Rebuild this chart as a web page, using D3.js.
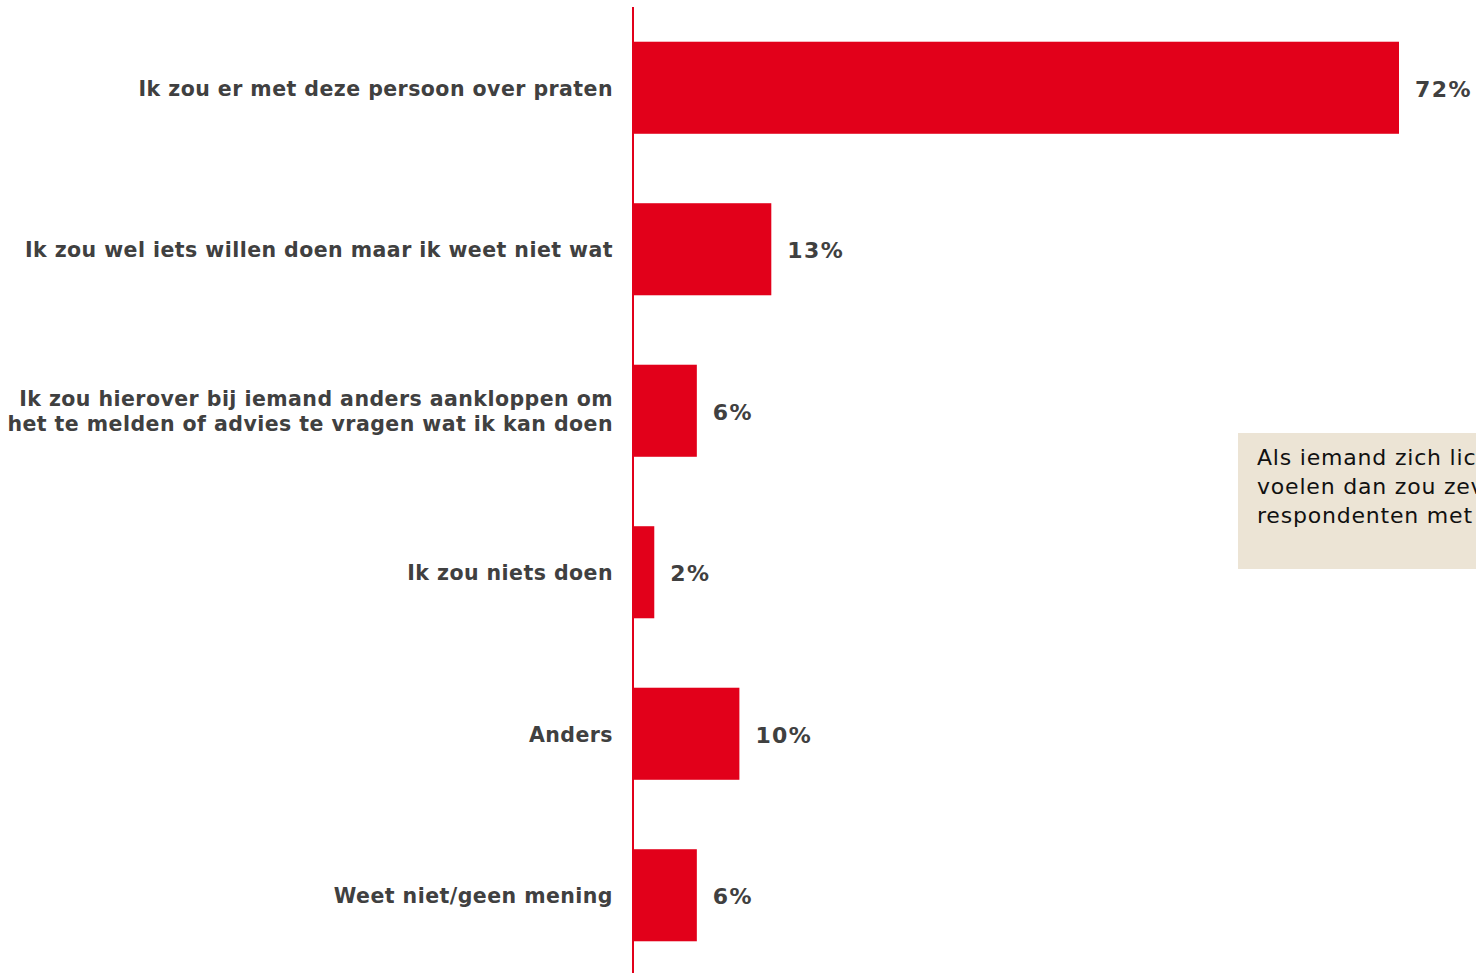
<!DOCTYPE html>
<html>
<head>
<meta charset="utf-8">
<script src="https://cdn.jsdelivr.net/npm/d3@7"></script>
<style>
  html, body { margin: 0; padding: 0; background: #ffffff; overflow: hidden; }
  svg { display: block; }
</style>
</head>
<body>
<svg id="chart" width="1476" height="973"></svg>
<script>
// Answer options (labels may span two lines)
const categories = [
  ["Ik zou er met deze persoon over praten"],
  ["Ik zou wel iets willen doen maar ik weet niet wat"],
  ["Ik zou hierover bij iemand anders aankloppen om", "het te melden of advies te vragen wat ik kan doen"],
  ["Ik zou niets doen"],
  ["Anders"],
  ["Weet niet/geen mening"]
];
// Share of respondents, in percent
const values = [72, 13, 6, 2, 10, 6];
// Callout text, one entry per line
const noteLines = [
  "Als iemand zich lichamelijk onveilig zou",
  "voelen dan zou zeven op de tien",
  "respondenten met deze persoon praten"
];

const W = 1476, H = 973;
const svg = d3.select("#chart");
const font = "'DejaVu Sans', Verdana, sans-serif";

const x = d3.scaleLinear().domain([0, 72]).range([633, 1399]);
const y = d3.scaleBand()
  .domain(d3.range(categories.length))
  .range([7, 976])
  .paddingInner(0.43)
  .paddingOuter(0.215);

// Bars
svg.append("g").selectAll("rect")
  .data(values)
  .join("rect")
  .attr("x", x(0))
  .attr("y", (d, i) => y(i))
  .attr("width", d => x(d) - x(0))
  .attr("height", y.bandwidth())
  .attr("fill", "#E2001A");

// Vertical baseline
svg.append("line")
  .attr("x1", x(0)).attr("x2", x(0))
  .attr("y1", 7).attr("y2", H)
  .attr("stroke", "#E2001A")
  .attr("stroke-width", 2);

// Category labels
const lab = svg.append("g").selectAll("text")
  .data(categories)
  .join("text")
  .attr("x", x(0) - 20)
  .attr("y", (d, i) => y(i) + y.bandwidth() / 2)
  .attr("text-anchor", "end")
  .attr("font-family", font)
  .attr("font-weight", "bold")
  .attr("font-size", 20.5)
  .attr("letter-spacing", 0.45)
  .attr("fill", "#404040");
lab.each(function(lines) {
  const t = d3.select(this);
  const lh = 25;
  lines.forEach((s, k) => {
    t.append("tspan")
      .attr("x", x(0) - 20)
      .attr("dy", k === 0 ? ((-(lines.length - 1) * lh / 2) + 8) : lh)
      .text(s);
  });
});

// Value labels
svg.append("g").selectAll("text")
  .data(values)
  .join("text")
  .attr("x", d => x(d) + 16)
  .attr("y", (d, i) => y(i) + y.bandwidth() / 2 + 9)
  .attr("font-family", font)
  .attr("font-weight", "bold")
  .attr("font-size", 22)
  .attr("letter-spacing", 1.4)
  .attr("fill", "#404040")
  .text(d => d + "%");

// Callout box
svg.append("rect")
  .attr("x", 1238).attr("y", 433)
  .attr("width", 300).attr("height", 136)
  .attr("fill", "#ECE4D5");
const note = svg.append("text")
  .attr("font-family", font)
  .attr("font-size", 22)
  .attr("letter-spacing", 0.8)
  .attr("fill", "#111111");
noteLines.forEach((s, k) => {
  note.append("tspan")
    .attr("x", 1257)
    .attr("y", 465 + k * 29)
    .text(s);
});
</script>
</body>
</html>
